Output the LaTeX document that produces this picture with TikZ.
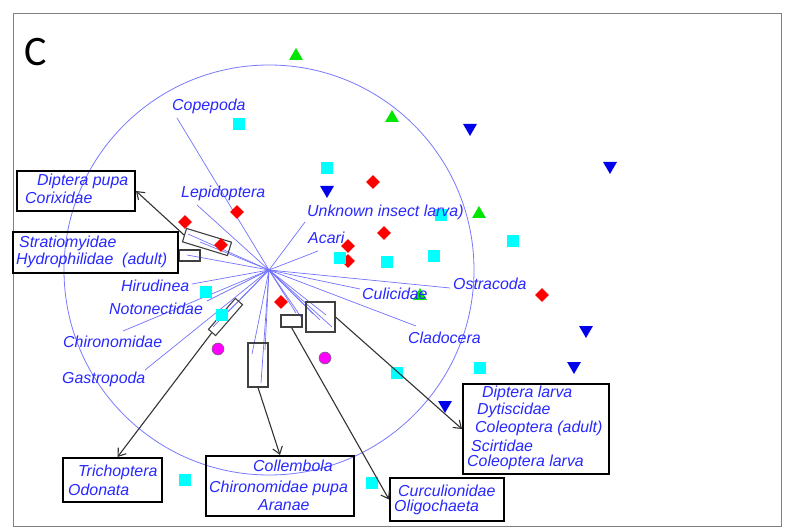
\documentclass[tikz,border=0pt]{standalone}
\usepackage{fontspec}
\setmainfont{Liberation Sans}
\newfontfamily\panelfont{Carlito}
\usetikzlibrary{shapes.geometric,arrows.meta,calc}

\definecolor{lblblue}{RGB}{40,40,255}
\definecolor{vecblue}{RGB}{115,115,255}
\definecolor{ringblue}{RGB}{120,120,255}
\definecolor{tridown}{RGB}{0,0,235}
\definecolor{triup}{RGB}{0,230,0}
\definecolor{diared}{RGB}{255,0,0}
\definecolor{sqcyan}{RGB}{0,255,255}
\definecolor{dotmag}{RGB}{255,0,255}

\begin{document}
\begin{tikzpicture}[x=1pt,y=-1pt,
  vec/.style={vecblue, line width=0.7pt},
  lbl/.style={anchor=base west, inner sep=0, text=lblblue,
    font=\fontsize{15.9}{18}\selectfont\itshape},
  selbox/.style={draw=black!75, line width=1.1pt, inner sep=0, fill=none},
  legbox/.style={draw=black, line width=2pt, inner sep=0},
  link/.style={draw=black!80, line width=1.1pt, -{Straight Barb[length=7pt,width=10pt]}},
  upmark/.style={regular polygon, regular polygon sides=3, fill=triup,
    minimum size=16pt, inner sep=0},
  downmark/.style={regular polygon, regular polygon sides=3, shape border rotate=180,
    fill=tridown, minimum size=16pt, inner sep=0},
  diamark/.style={diamond, aspect=1, fill=diared, minimum width=14pt,
    minimum height=14pt, inner sep=0},
  sqmark/.style={rectangle, fill=sqcyan, minimum size=12pt, inner sep=0},
  dotmark/.style={circle, fill=dotmag, draw=black!60, line width=0.5pt,
    minimum size=12pt, inner sep=0},
]
\useasboundingbox (0,0) rectangle (787,529);
\fill[white] (0,0) rectangle (787,529);

% panel frame and letter
\draw[gray, line width=1pt] (13,14) rectangle (781,526);
\node[inner sep=0, font=\panelfont\fontsize{42}{42}\selectfont] (panel) at (36,52) {C};

% correlation circle and origin
\coordinate (O) at (269,270);
\draw[ringblue, line width=0.8pt] (O) circle[radius=205];

% species vectors
\coordinate (vCope) at (177,118);
\coordinate (vLepi) at (197,205);
\coordinate (vUnkn) at (305,222);
\coordinate (vAcar) at (318,251);
\coordinate (vOstr) at (450,288);
\coordinate (vCuli) at (360,289);
\coordinate (vClad) at (416,326);
\coordinate (vHiru) at (192,284);
\coordinate (vNoto) at (207,301);
\coordinate (vChir) at (123,331);
\coordinate (vGast) at (145,370);
\coordinate (vL1) at (213,327);
\coordinate (vL2) at (228,312);
\coordinate (vT1) at (252,354);
\coordinate (vT2) at (261,383);
\coordinate (vT3) at (265,350);
\coordinate (vS1) at (296,313);
\coordinate (vS2) at (301,317);
\coordinate (vQ1) at (313,314);
\coordinate (vQ2) at (320,320);
\coordinate (vQ3) at (326,315);
\coordinate (vQ4) at (332,327);
\coordinate (vU1) at (188,234);
\coordinate (vU2) at (200,242);
\coordinate (vK1) at (187,255);
\foreach \v in {vCope,vLepi,vUnkn,vAcar,vOstr,vCuli,vClad,vHiru,vNoto,vChir,vGast,
  vL1,vL2,vT1,vT2,vT3,vS1,vS2,vQ1,vQ2,vQ3,vQ4,vU1,vU2,vK1}
  \draw[vec] (O) -- (\v);

% grouping rectangles around clustered vectors
\node[selbox, minimum width=47pt, minimum height=14pt, rotate=-17] (rU) at (207,242) {};
\node[selbox, minimum width=21pt, minimum height=11pt] (rK) at (189.5,255.5) {};
\node[selbox, minimum width=41pt, minimum height=9.5pt, rotate=49] (rL) at (225.5,317) {};
\node[selbox, minimum width=20pt, minimum height=44pt] (rT) at (258,365) {};
\node[selbox, minimum width=21pt, minimum height=12pt] (rS) at (291.5,321) {};
\node[selbox, minimum width=29pt, minimum height=30pt] (rQ) at (320.5,317) {};

% site scores
\foreach \p [count=\i] in {(296,56),(392,118),(479,214),(420,296)}
  \node[upmark] (up\i) at \p {};
\foreach \p [count=\i] in {(470,128),(610,166),(327,190),(586,330),(574,366),(445,405)}
  \node[downmark] (dn\i) at \p {};
\foreach \p [count=\i] in {(373,182),(185,222),(237,212),(221,245),(384,233),
  (348,246),(348,261),(542,295),(281,302)}
  \node[diamark] (di\i) at \p {};
\foreach \p [count=\i] in {(239,124),(327,168),(441,215),(513,241),(340,258),(387,262),
  (434,256),(206,292),(222,315),(397,373),(480,368),(185,480),(372,483)}
  \node[sqmark] (sq\i) at \p {};
\node[dotmark] (dot1) at (218,349) {};
\node[dotmark] (dot2) at (325,358) {};

% vector labels
\node[lbl] (tCope) at (172,111) {Copepoda};
\node[lbl] (tLepi) at (181,198) {Lepidoptera};
\node[lbl] (tUnkn) at (307,217) {Unknown insect larva)};
\node[lbl] (tAcar) at (308,244) {Acari};
\node[lbl] (tOstr) at (453,290) {Ostracoda};
\node[lbl] (tCuli) at (362,300) {Culicidae};
\node[lbl] (tClad) at (408,343) {Cladocera};
\node[lbl] (tHiru) at (121,292) {Hirudinea};
\node[lbl] (tNoto) at (109,314) {Notonectidae};
\node[lbl] (tChir) at (63,347) {Chironomidae};
\node[lbl] (tGast) at (62,383) {Gastropoda};

% legend boxes for grouped vectors
\node[legbox, minimum width=118pt, minimum height=40pt] (bDP) at (76,191) {};
\node[lbl] at (37,186) {Diptera pupa};
\node[lbl] at (25,204) {Corixidae};

\node[legbox, minimum width=165pt, minimum height=41pt] (bSt) at (95.5,252.5) {};
\node[lbl] at (19,248) {Stratiomyidae};
\node[lbl] at (16,265) {Hydrophilidae\ \ (adult)};

\node[legbox, minimum width=99pt, minimum height=44pt] (bT) at (112.5,480) {};
\node[lbl] at (78,476) {Trichoptera};
\node[lbl] at (68,495) {Odonata};

\node[legbox, minimum width=148pt, minimum height=60pt] (bC) at (280,486) {};
\node[lbl] at (253,471) {Collembola};
\node[lbl] at (209,492) {Chironomidae pupa};
\node[lbl] at (258,510) {Aranae};

\node[legbox, minimum width=114pt, minimum height=43pt] (bCu) at (447,499.5) {};
\node[lbl] at (398,496) {Curculionidae};
\node[lbl] at (394,511) {Oligochaeta};

\node[legbox, minimum width=146pt, minimum height=90pt] (bDL) at (536,429) {};
\node[lbl] at (482,397) {Diptera larva};
\node[lbl] at (477,414) {Dytiscidae};
\node[lbl] at (475,432) {Coleoptera (adult)};
\node[lbl] at (471,451) {Scirtidae};
\node[lbl] at (467,466) {Coleoptera larva};

% leader arrows from groups to their legends
\draw[link] (rU.west) -- (bDP.east);
\draw[link] (rL.west) -- ([xshift=5pt]bT.north);
\draw[link] (rT.south) -- (bC.north);
\draw[link] (rS.south) -- (bCu.west);
\draw[link] (rQ.east) -- (bDL.west);
\end{tikzpicture}
\end{document}
